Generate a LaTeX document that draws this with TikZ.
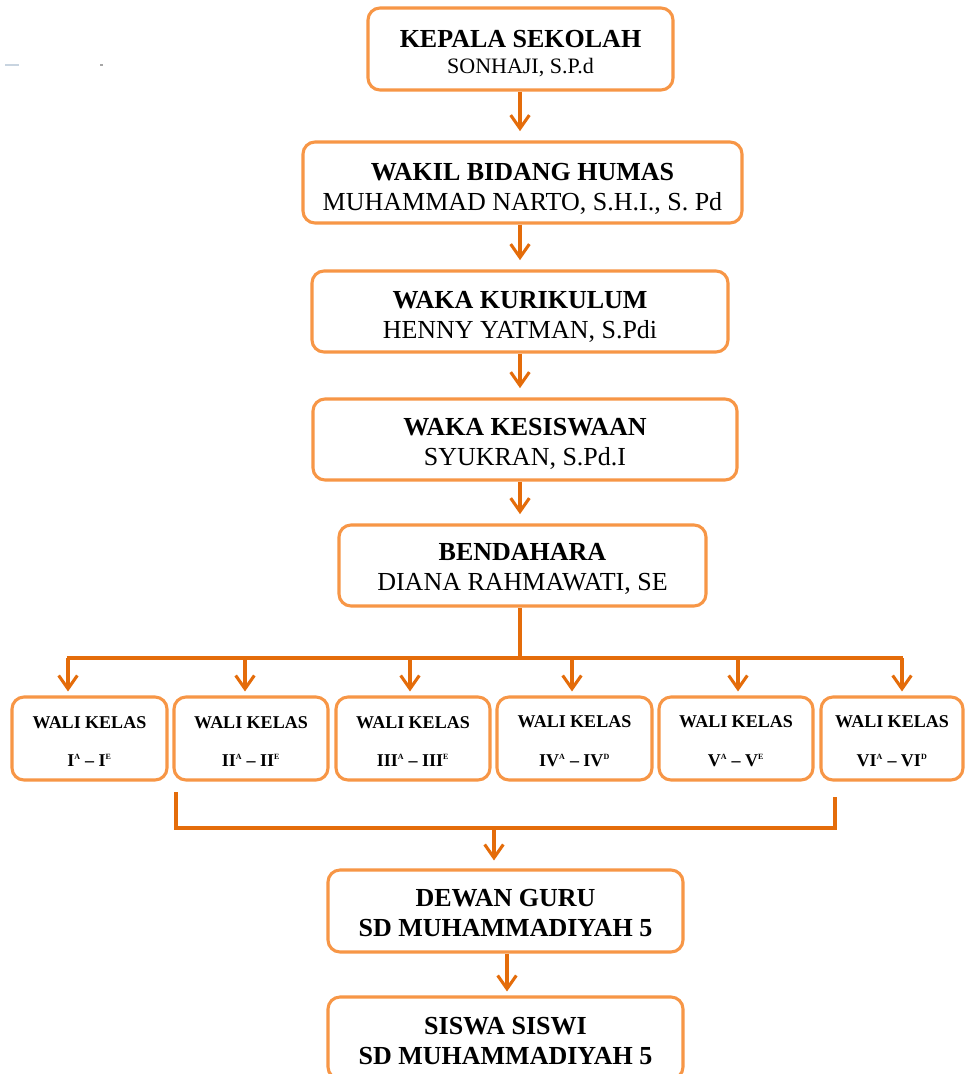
\documentclass[tikz,border=0pt]{standalone}
\usepackage{fontspec}
\setmainfont{Liberation Serif}
\usetikzlibrary{arrows.meta}
\definecolor{boxc}{HTML}{F79646}
\definecolor{linec}{HTML}{E46C0A}
\definecolor{markc}{HTML}{C8D4E0}
\newcommand\sps[1]{\textsuperscript{\fontsize{6}{6}\selectfont #1}}
\newcommand\tsh[1]{\rule{0pt}{#1}}
\begin{document}
\begin{tikzpicture}[x=0.75pt,y=-0.75pt,
  box/.style={draw=boxc, line width=2.3pt, rounded corners=9pt, fill=white,
    align=center, inner sep=0pt, font=\fontsize{19.5}{22.5}\selectfont},
  bigbox/.style={box, minimum height=81*0.75pt},
  wbox/.style={box, minimum height=83*0.75pt, font=\fontsize{13.5}{29}\selectfont\bfseries},
  conn/.style={draw=linec, line width=2.3pt},
  arr/.style={conn, -{Straight Barb[length=10pt,width=14pt]}, shorten >=3pt}]
\useasboundingbox (0,0) rectangle (966,1074);
\fill[white] (0,0) rectangle (966,1074);
% faint marks
\draw[markc, line width=1pt] (5,65) -- (19,65);
\draw[gray!70, line width=1pt] (100,65) -- (103,65);
% main chain
\node[bigbox, minimum width=305*0.75pt, minimum height=82*0.75pt] (k) at (520.5,49)
  {\tsh{20.4pt}\textbf{KEPALA SEKOLAH}\\[-3pt]{\fontsize{16.5}{18}\selectfont SONHAJI, S.P.d}};
\node[bigbox, minimum width=439*0.75pt] (h) at (522.5,182.5)
  {\tsh{21.9pt}\textbf{WAKIL BIDANG HUMAS}\\MUHAMMAD NARTO, S.H.I., S. Pd};
\node[bigbox, minimum width=416*0.75pt] (u) at (520,311.5)
  {\tsh{20.4pt}\textbf{WAKA KURIKULUM}\\HENNY YATMAN, S.Pdi};
\node[bigbox, minimum width=424*0.75pt] (s) at (525,439.5)
  {\tsh{19.7pt}\textbf{WAKA KESISWAAN}\\SYUKRAN, S.Pd.I};
\node[bigbox, minimum width=367*0.75pt] (b) at (522.5,565.5)
  {\tsh{17.4pt}\textbf{BENDAHARA}\\DIANA RAHMAWATI, SE};
% wali kelas
\node[wbox, minimum width=155*0.75pt] (w1) at (89.5,738.5) {\tsh{13.3pt}WALI KELAS\\I\sps{A} – I\sps{E}};
\node[wbox, minimum width=154*0.75pt] (w2) at (251,738.5) {\tsh{13.3pt}WALI KELAS\\II\sps{A} – II\sps{E}};
\node[wbox, minimum width=154*0.75pt] (w3) at (413,738.5) {\tsh{13.3pt}WALI KELAS\\III\sps{A} – III\sps{E}};
\node[wbox, minimum width=155*0.75pt] (w4) at (574.5,738.5) {\tsh{13.3pt}WALI KELAS\\IV\sps{A} – IV\sps{D}};
\node[wbox, minimum width=154*0.75pt] (w5) at (736,738.5) {\tsh{13.3pt}WALI KELAS\\V\sps{A} – V\sps{E}};
\node[wbox, minimum width=142*0.75pt] (w6) at (892,738.5) {\tsh{13.3pt}WALI KELAS\\VI\sps{A} – VI\sps{D}};
% bottom
\node[bigbox, minimum width=355*0.75pt, minimum height=82*0.75pt] (d) at (505.5,911)
  {\tsh{16pt}\textbf{DEWAN GURU}\\\textbf{SD MUHAMMADIYAH 5}};
\node[bigbox, minimum width=355*0.75pt, minimum height=82*0.75pt] (sw) at (505.5,1038)
  {\tsh{17.4pt}\textbf{SISWA SISWI}\\\textbf{SD MUHAMMADIYAH 5}};
% connectors
\coordinate (spine) at (520,0);
\draw[arr, shorten >=7pt] (k.south -| spine) -- (h.north -| spine);
\draw[arr, shorten >=7pt] (h.south -| spine) -- (u.north -| spine);
\draw[arr, shorten >=7pt] (u.south -| spine) -- (s.north -| spine);
\draw[arr, shorten >=7pt] (s.south -| spine) -- (b.north -| spine);
\coordinate (bus) at (520,658);
\draw[conn] (b.south -| spine) -- (bus);
\coordinate (a1) at (68,658);
\coordinate (a2) at (245,658);
\coordinate (a3) at (410,658);
\coordinate (a4) at (572,658);
\coordinate (a5) at (738,658);
\coordinate (a6) at (902,658);
\draw[conn] ([xshift=-1pt]a1) -- ([xshift=1pt]a6);
\foreach \i in {1,...,6} {\draw[arr] (a\i) -- (a\i |- w\i.north);}
\coordinate (c1) at (176,792);
\coordinate (c2) at (835,797);
\coordinate (c3) at (494,828);
\draw[conn] (c1) -- (c1 |- c3) -- (c2 |- c3) -- (c2);
\draw[arr, shorten >=6pt] (c3) -- (c3 |- d.north);
\coordinate (x2) at (507,0);
\draw[arr] (d.south -| x2) -- (sw.north -| x2);
\end{tikzpicture}
\end{document}
